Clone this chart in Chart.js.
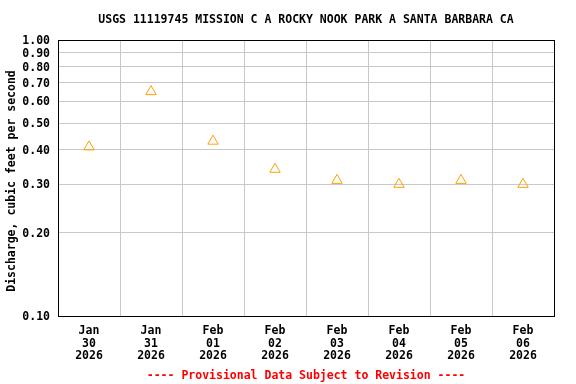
<!DOCTYPE html>
<html>
<head>
<meta charset="utf-8">
<script src="https://cdn.jsdelivr.net/npm/chart.js@4/dist/chart.umd.min.js"></script>
<style>
html,body{margin:0;padding:0;background:#fff;}
canvas{display:block;}
</style>
</head>
<body>
<canvas id="c" width="576" height="384"></canvas>
<script>
const months = ['Jan','Jan','Feb','Feb','Feb','Feb','Feb','Feb'];
const days = ['30','31','01','02','03','04','05','06'];
const years = ['2026','2026','2026','2026','2026','2026','2026','2026'];
const discharge = [0.41, 0.65, 0.43, 0.34, 0.31, 0.30, 0.31, 0.30];
const yTicks = [0.10, 0.20, 0.30, 0.40, 0.50, 0.60, 0.70, 0.80, 0.90, 1.00];
const titleText = 'USGS 11119745 MISSION C A ROCKY NOOK PARK A SANTA BARBARA CA';
const yTitleText = 'Discharge, cubic feet per second';
const footerText = '---- Provisional Data Subject to Revision ----';

const labels = months.map((m, i) => [m, days[i], years[i]]);
const FONT = '"DejaVu Sans Mono", monospace';

const decor = {
  id: 'decor',
  afterDraw(chart) {
    const ctx = chart.ctx, a = chart.chartArea;
    ctx.save();
    ctx.strokeStyle = '#000';
    ctx.lineWidth = 1;
    ctx.strokeRect(Math.round(a.left) + 0.5, Math.round(a.top) + 0.5,
      Math.round(a.right - a.left), Math.round(a.bottom - a.top));
    const cx = (a.left + a.right) / 2;
    ctx.textAlign = 'center';
    ctx.textBaseline = 'middle';
    ctx.font = 'bold 11.5px ' + FONT;
    ctx.fillStyle = '#000';
    ctx.fillText(titleText, cx, 20);
    ctx.fillStyle = '#ff0000';
    ctx.fillText(footerText, cx, 376);
    ctx.fillStyle = '#000';
    ctx.font = 'bold 11.5px ' + FONT;
    ctx.translate(12, (a.top + a.bottom) / 2 + 3);
    ctx.rotate(-Math.PI / 2);
    ctx.fillText(yTitleText, 0, 0);
    ctx.restore();
  }
};

new Chart(document.getElementById('c'), {
  type: 'line',
  data: {
    labels: labels,
    datasets: [{
      data: discharge,
      showLine: false,
      pointStyle: 'triangle',
      pointRadius: 6,
      pointHoverRadius: 6,
      pointBorderWidth: 1,
      borderColor: '#ff9f00',
      pointBorderColor: '#ff9f00',
      pointBackgroundColor: 'rgba(0,0,0,0)'
    }]
  },
  options: {
    responsive: false,
    animation: false,
    events: [],
    layout: { padding: { top: 40, right: 22, bottom: 0, left: 0 } },
    plugins: { legend: { display: false }, tooltip: { enabled: false }, title: { display: false } },
    scales: {
      x: {
        type: 'category',
        offset: true,
        grid: { offset: true, color: '#c8c8c8', lineWidth: 1, drawTicks: false },
        border: { display: false },
        ticks: {
          color: '#000',
          font: { family: FONT, size: 11.5, weight: 'bold', lineHeight: 1.08 },
          padding: 9,
          maxRotation: 0,
          autoSkip: false
        },
        afterFit(s) { s.height = 68; }
      },
      y: {
        type: 'logarithmic',
        min: 0.1,
        max: 1.0,
        grid: { color: '#c8c8c8', lineWidth: 1, drawTicks: false },
        border: { display: false },
        afterBuildTicks(s) { s.ticks = yTicks.map(v => ({ value: v })); },
        ticks: {
          color: '#000',
          font: { family: FONT, size: 11.5, weight: 'bold' },
          padding: 8,
          labelOffset: 1,
          autoSkip: false,
          callback: v => Number(v).toFixed(2)
        },
        afterFit(s) { s.width = 58; }
      }
    }
  },
  plugins: [decor]
});
</script>
</body>
</html>
